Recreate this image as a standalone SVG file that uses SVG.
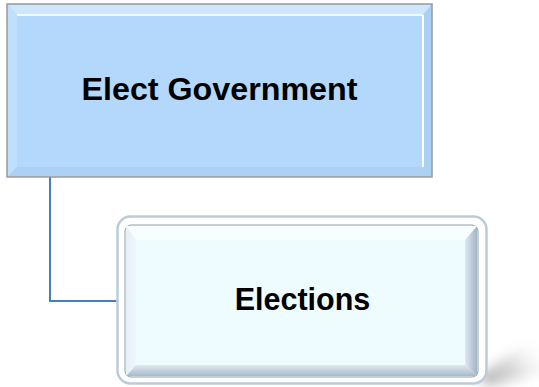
<svg xmlns="http://www.w3.org/2000/svg" width="539" height="387" viewBox="0 0 539 387">
<style>
.lbl{font-family:"Liberation Sans",Arial,sans-serif;font-weight:bold;font-size:30.5px;fill:#000;text-anchor:middle}
.conn{fill:none;stroke:#4a7ebb;stroke-width:2}
</style>
<defs>
<linearGradient id="rbev" x1="0" y1="0" x2="1" y2="0">
<stop offset="0" stop-color="#dfe9f1"/><stop offset="1" stop-color="#a3b4c5"/>
</linearGradient>
<linearGradient id="bbev" x1="0" y1="0" x2="0" y2="1">
<stop offset="0" stop-color="#dfe9f1"/><stop offset="1" stop-color="#a9b9c9"/>
</linearGradient>
<linearGradient id="lbev" x1="0" y1="0" x2="1" y2="0">
<stop offset="0" stop-color="#e4eef4"/><stop offset="1" stop-color="#eef8fc"/>
</linearGradient>
<linearGradient id="shad" x1="0" y1="1" x2="1" y2="0.3">
<stop offset="0" stop-color="#888888" stop-opacity="0.8"/><stop offset="0.5" stop-color="#aaaaaa" stop-opacity="0.45"/><stop offset="1" stop-color="#ffffff" stop-opacity="0"/>
</linearGradient>
<filter id="blur" x="-40%" y="-60%" width="180%" height="220%"><feGaussianBlur stdDeviation="6"/></filter>
</defs>
<g id="connectors">
<path class="conn" d="M50 177 V301 H118"/>
</g>
<g id="node-elect-government">
<rect x="7" y="4" width="425" height="173" fill="#b3d8fc" stroke="#9a9a9a" stroke-width="1.5"/>
<path d="M8 5 H431 L423 15 H17 Z" fill="#cfe7fd"/>
<path d="M17 15 H423" stroke="#f2f9ff" stroke-width="2"/>
<path d="M8 5 L17 15 V167 L8 176 Z" fill="#bfdffc"/>
<path d="M431 5 V176 L423 167 V15 Z" fill="#aad0f4"/>
<path d="M423 15 V167" stroke="#ffffff" stroke-width="2"/>
<path d="M8 176 L17 167 H423 L431 176 Z" fill="#acd1f4"/>
<text class="lbl" x="219.5" y="99.5" textLength="276" lengthAdjust="spacingAndGlyphs">Elect Government</text>
</g>
<g id="node-elections">
<path d="M476 378 L545 330 L545 372 L490 386 Z" fill="url(#shad)" filter="url(#blur)"/>
<rect x="117.5" y="216.5" width="369" height="167" rx="13" fill="#ffffff" stroke="#bccbda" stroke-width="2.5"/>
<rect x="125" y="225" width="353" height="152" rx="6" fill="#eefcff" stroke="#8fa0b2" stroke-width="1"/>
<path d="M126 226 H477 L465 240 H136 Z" fill="#f7feff"/>
<path d="M126 226 L136 240 V365 L126 376 Z" fill="url(#lbev)"/>
<path d="M477 226 V376 L465 365 V240 Z" fill="url(#rbev)"/>
<path d="M126 376 L136 365 H465 L477 376 Z" fill="url(#bbev)"/>
<rect x="136" y="240" width="329" height="125" fill="#eefcff"/>
<text class="lbl" x="302.5" y="309.5">Elections</text>
</g>
</svg>
